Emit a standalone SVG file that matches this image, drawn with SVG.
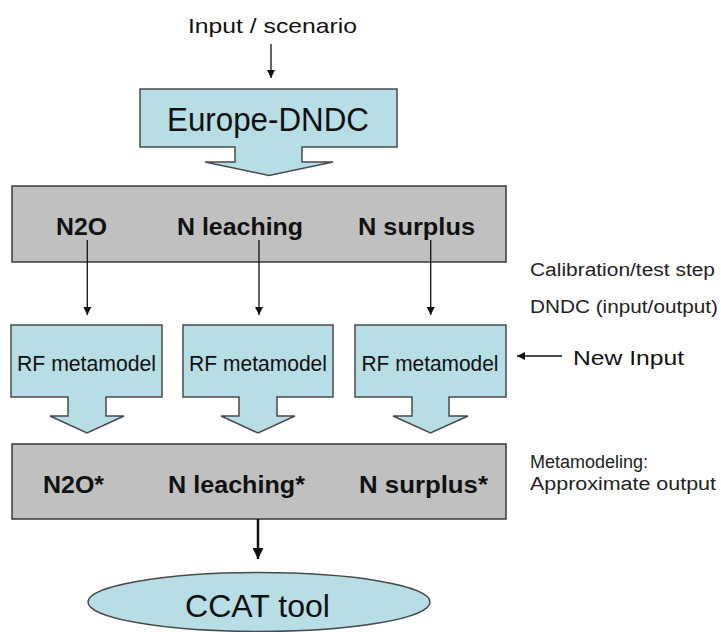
<svg xmlns="http://www.w3.org/2000/svg" width="721" height="632" viewBox="0 0 721 632">
<style>
text{font-family:"Liberation Sans",Arial,sans-serif;fill:#111}
.cy{fill:#b7dee4;stroke:#4a4a4a;stroke-width:1.5}
.gr{fill:#c0c0c0;stroke:#383838;stroke-width:1.5}
.b{font-weight:bold;font-size:24px}
.rf{font-size:22px;text-anchor:middle}
.side{font-size:18px;fill:#222}
.ln{stroke:#111;stroke-width:1.3;fill:none}
</style>
<defs>
<marker id="ah" viewBox="0 0 10 10" refX="10" refY="5" markerWidth="8" markerHeight="10" markerUnits="userSpaceOnUse" orient="auto">
<path d="M0,0 L10,5 L0,10 Z" fill="#111"/>
</marker>
<marker id="ahb" viewBox="0 0 10 10" refX="10" refY="5" markerWidth="12" markerHeight="11" markerUnits="userSpaceOnUse" orient="auto">
<path d="M0,0 L10,5 L0,10 Z" fill="#111"/>
</marker>
</defs>
<rect width="721" height="632" fill="#fff"/>

<g id="input-label">
<text x="188" y="33" font-size="21" textLength="169" lengthAdjust="spacingAndGlyphs">Input / scenario</text>
</g>

<g id="europe-dndc">
<path class="cy" d="M140,89 H397 V147 H302 V162 H333 L269,175.5 L205,162 H235 V147 H140 Z"/>
<text x="167" y="131" font-size="33" textLength="202" lengthAdjust="spacingAndGlyphs">Europe-DNDC</text>
</g>

<g id="dndc-outputs">
<rect class="gr" x="12" y="186" width="494" height="76"/>
<text class="b" x="56" y="235" textLength="51" lengthAdjust="spacingAndGlyphs">N2O</text>
<text class="b" x="177" y="235" textLength="126" lengthAdjust="spacingAndGlyphs">N leaching</text>
<text class="b" x="358" y="235" textLength="117" lengthAdjust="spacingAndGlyphs">N surplus</text>
</g>

<g id="rf1">
<path class="cy" d="M11,325 H162 V397 H106 V416 H124 L87,433 L50,416 H68 V397 H11 Z"/>
<text class="rf" x="86.5" y="371" textLength="139" lengthAdjust="spacingAndGlyphs">RF metamodel</text>
</g>
<g id="rf2">
<path class="cy" d="M183,325 H333 V397 H277 V416 H295 L258,433 L221,416 H239 V397 H183 Z"/>
<text class="rf" x="258" y="371" textLength="138" lengthAdjust="spacingAndGlyphs">RF metamodel</text>
</g>
<g id="rf3">
<path class="cy" d="M355,325 H506 V397 H449 V416 H468 L430.5,433 L393,416 H412 V397 H355 Z"/>
<text class="rf" x="430" y="371" textLength="137" lengthAdjust="spacingAndGlyphs">RF metamodel</text>
</g>

<g id="meta-outputs">
<rect class="gr" x="12" y="444" width="494" height="75"/>
<text class="b" x="43" y="493" textLength="61" lengthAdjust="spacingAndGlyphs">N2O*</text>
<text class="b" x="168" y="493" textLength="137" lengthAdjust="spacingAndGlyphs">N leaching*</text>
<text class="b" x="359" y="493" textLength="129" lengthAdjust="spacingAndGlyphs">N surplus*</text>
</g>

<g id="ccat">
<ellipse class="cy" cx="259" cy="602" rx="171" ry="29.5"/>
<text x="185" y="617" font-size="32" textLength="145" lengthAdjust="spacingAndGlyphs">CCAT tool</text>
</g>

<g id="side-labels">
<text class="side" x="530" y="276" textLength="185" lengthAdjust="spacingAndGlyphs">Calibration/test step</text>
<text class="side" x="530" y="313" textLength="188" lengthAdjust="spacingAndGlyphs">DNDC (input/output)</text>
<text x="573" y="365" font-size="21" textLength="111" lengthAdjust="spacingAndGlyphs">New Input</text>
<text class="side" x="530" y="468" font-size="19" textLength="118" lengthAdjust="spacingAndGlyphs">Metamodeling:</text>
<text class="side" x="530" y="490" font-size="19" textLength="186" lengthAdjust="spacingAndGlyphs">Approximate output</text>
</g>

<g id="connectors">
<line class="ln" x1="271" y1="44" x2="271" y2="78" marker-end="url(#ah)"/>
<line class="ln" x1="87.3" y1="240" x2="87.3" y2="315" marker-end="url(#ah)"/>
<line class="ln" x1="259" y1="240" x2="259" y2="315" marker-end="url(#ah)"/>
<line class="ln" x1="430.7" y1="240" x2="430.7" y2="315" marker-end="url(#ah)"/>
<line class="ln" x1="562" y1="356" x2="517" y2="356" marker-end="url(#ah)"/>
<line x1="258" y1="519" x2="258" y2="559" stroke="#111" stroke-width="2.5" marker-end="url(#ahb)"/>
</g>
</svg>
